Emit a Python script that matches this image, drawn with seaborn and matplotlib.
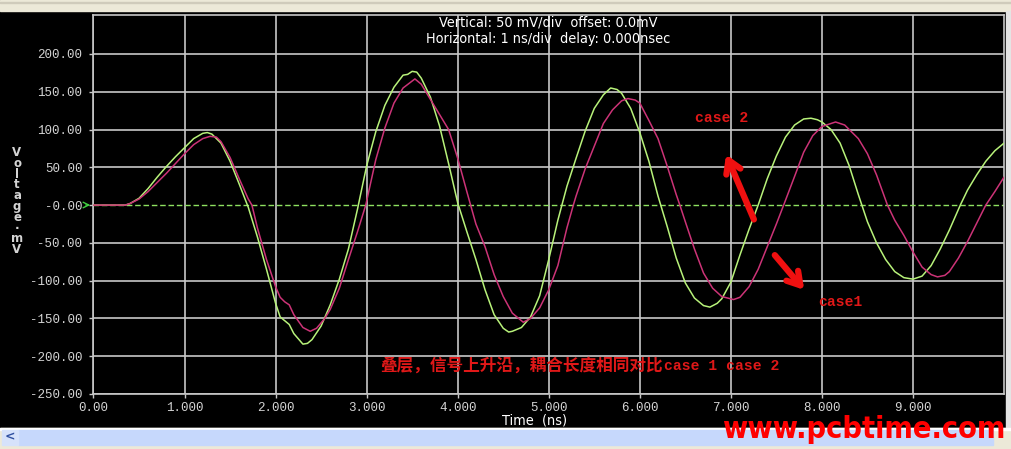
import numpy as np
import pandas as pd
import matplotlib
matplotlib.use('Agg')
import matplotlib.pyplot as plt
from matplotlib.patches import Rectangle
import seaborn as sns

# valores: tempo (ns) e tensao (mV)
t_case2 = [0.0, 0.3, 0.35, 0.4, 0.5, 0.6, 0.7, 0.8, 0.9, 1.0, 1.1, 1.2, 1.25, 1.3, 1.4, 1.5, 1.6,
           1.7, 1.8, 1.9, 2.0, 2.05, 2.1, 2.15, 2.2, 2.3, 2.35, 2.4, 2.5, 2.6, 2.7, 2.8, 2.9,
           3.0, 3.1, 3.2, 3.3, 3.4, 3.45, 3.5, 3.55, 3.6, 3.7, 3.8, 3.9, 4.0, 4.1, 4.2, 4.3,
           4.4, 4.5, 4.56, 4.6, 4.7, 4.8, 4.9, 5.0, 5.1, 5.2, 5.3, 5.4, 5.5, 5.6, 5.68, 5.75,
           5.8, 5.9, 6.0, 6.1, 6.2, 6.3, 6.4, 6.5, 6.6, 6.7, 6.77, 6.85, 6.9, 7.0, 7.1, 7.2,
           7.3, 7.4, 7.5, 7.6, 7.7, 7.8, 7.88, 7.95, 8.0, 8.1, 8.2, 8.3, 8.4, 8.5, 8.6, 8.7,
           8.8, 8.9, 9.0, 9.1, 9.2, 9.3, 9.4, 9.52, 9.6, 9.7, 9.8, 9.9, 10.0]
v_case2 = [0, 0, 0, 2, 9, 22, 37, 51, 64, 76, 88, 95, 96, 94, 82, 58, 28,
           -3, -42, -85, -130, -148, -153, -158, -170, -184, -183, -178, -160, -132, -98, -58, -5,
           52, 97, 132, 156, 172, 173, 177, 176, 168, 143, 105, 55, 3, -35, -72, -112,
           -145, -163, -168, -167, -162, -148, -120, -72, -20, 25, 62, 98, 128, 146, 155, 153,
           148, 128, 96, 58, 12, -28, -70, -103, -123, -133, -135, -130, -124, -102, -66, -32,
           0, 35, 65, 90, 106, 114, 115, 113, 110, 100, 82, 52, 14, -22, -50, -72,
           -88, -96, -98, -94, -80, -58, -33, 0, 20, 40, 58, 72, 82]

t_case1 = [0.0, 0.35, 0.4, 0.5, 0.6, 0.7, 0.8, 0.9, 1.0, 1.1, 1.2, 1.28, 1.35, 1.4, 1.5, 1.6,
           1.7, 1.74, 1.8, 1.9, 2.0, 2.05, 2.1, 2.15, 2.2, 2.3, 2.38, 2.45, 2.54, 2.6, 2.7,
           2.8, 2.9, 2.99, 3.1, 3.2, 3.3, 3.4, 3.53, 3.6, 3.7, 3.8, 3.9, 4.0, 4.1, 4.2,
           4.3, 4.4, 4.5, 4.6, 4.72, 4.8, 4.9, 5.0, 5.1, 5.2, 5.27, 5.3, 5.4, 5.5, 5.6, 5.7,
           5.8, 5.87, 5.95, 6.0, 6.1, 6.2, 6.3, 6.4, 6.44, 6.5, 6.6, 6.7, 6.8, 6.9, 7.03, 7.1,
           7.2, 7.3, 7.4, 7.5, 7.58, 7.7, 7.8, 7.9, 8.0, 8.15, 8.25, 8.3, 8.4, 8.5, 8.6, 8.72,
           8.8, 8.9, 9.0, 9.1, 9.2, 9.27, 9.35, 9.4, 9.5, 9.6, 9.7, 9.8, 9.9, 10.0]
v_case1 = [0, 0, 2, 8, 18, 30, 42, 55, 68, 80, 88, 91, 90, 84, 63, 35,
           8, 0, -30, -72, -108, -122, -128, -132, -145, -162, -167, -163, -150, -138, -110,
           -72, -35, 0, 60, 102, 135, 155, 167, 160, 140, 120, 100, 62, 18, -25,
           -55, -92, -121, -143, -155, -150, -136, -112, -80, -30, 0, 12, 48, 78, 108, 126,
           138, 141, 139, 135, 112, 88, 52, 14, 0, -22, -58, -90, -110, -121, -125, -122,
           -108, -85, -55, -25, 0, 38, 70, 92, 104, 110, 106, 100, 88, 68, 40, 0,
           -20, -40, -62, -82, -92, -95, -93, -88, -70, -48, -24, 0, 18, 37]

x_ticks = [0, 1, 2, 3, 4, 5, 6, 7, 8, 9]
x_tick_labels = ['0.00', '1.000', '2.000', '3.000', '4.000', '5.000', '6.000', '7.000', '8.000', '9.000']
y_ticks = [-250, -200, -150, -100, -50, 0, 50, 100, 150, 200]
y_tick_labels = ['-250.00', '-200.00', '-150.00', '-100.00', '-50.00', '-0.00',
                 '50.00', '100.00', '150.00', '200.00']

sns.set_style('ticks')

W, H = 1012, 449
fig = plt.figure(figsize=(W / 100, H / 100), dpi=100, facecolor='black')


def fx(x):
    return x / W


def fy(y):
    return 1 - y / H


# "janela" ao redor do grafico
fig.add_artist(Rectangle((0, fy(11)), 1, 11 / H, transform=fig.transFigure, color='#ece9d8', zorder=0))
fig.add_artist(Rectangle((0, fy(3)), 1, 1 / H, transform=fig.transFigure, color='#cfcbbb', zorder=0))
fig.add_artist(Rectangle((fx(1006), fy(428)), 6 / W, 417 / H, transform=fig.transFigure, color='#e4e4e4', zorder=0))
fig.add_artist(Rectangle((0, 0), 1, 21 / H, transform=fig.transFigure, color='#ece9d8', zorder=0))
fig.add_artist(Rectangle((0, fy(430)), 1, 2 / H, transform=fig.transFigure, color='#ffffff', zorder=0))
fig.add_artist(Rectangle((fx(18), fy(445)), 975 / W, 15 / H, transform=fig.transFigure, color='#c6d8fc', zorder=0))
fig.add_artist(Rectangle((fx(2), fy(445)), 16 / W, 15 / H, transform=fig.transFigure, color='#d6e2fb', zorder=0))
fig.text(fx(10), fy(437), '<', color='#3050a0', fontsize=9, fontweight='bold', ha='center', va='center')

ax = fig.add_axes([fx(93.5), fy(394), (1004 - 93.5) / W, (394 - 15) / H])
ax.set_facecolor('black')

df2 = pd.DataFrame({'t': t_case2, 'v': v_case2})
df1 = pd.DataFrame({'t': t_case1, 'v': v_case1})

ax.axhline(0, color='#8ee060', lw=1, ls=(0, (4, 2)), zorder=2)
sns.lineplot(data=df2, x='t', y='v', ax=ax, color='#b8f27a', lw=1.1, zorder=3, legend=False)
sns.lineplot(data=df1, x='t', y='v', ax=ax, color='#cc3377', lw=1.1, zorder=3, legend=False)

ax.set_xlim(0, 10)
ax.set_ylim(-250, 251.6)
ax.set_xticks(x_ticks, labels=x_tick_labels, fontfamily='Liberation Mono', fontsize=9)
ax.set_yticks(y_ticks, labels=y_tick_labels, fontfamily='Liberation Mono', fontsize=9)
ax.tick_params(axis='both', colors='#c8c8c8', labelcolor='#d4d4d4', length=3, width=1)
ax.tick_params(axis='x', pad=3)
ax.tick_params(axis='y', pad=5)
ax.set_xlabel('')
ax.set_ylabel('')

ax.grid(True, color='#c8c8c8', lw=1.2, zorder=1)
ax.set_axisbelow(True)
ax.yaxis.get_gridlines()[y_ticks.index(0)].set_visible(False)
for s in ax.spines.values():
    s.set_color('#c8c8c8')
    s.set_linewidth(1.2)

# textos do cabecalho (DejaVu Sans condensada)
fig.text(fx(548), fy(22), 'Vertical: 50 mV/div  offset: 0.0mV', color='white', fontsize=10.4,
         fontstretch='condensed', ha='center', va='center')
fig.text(fx(548), fy(39), 'Horizontal: 1 ns/div  delay: 0.000nsec', color='white', fontsize=10.4,
         fontstretch='condensed', ha='center', va='center')
fig.text(fx(535), fy(421), 'Time  (ns)', color='white', fontsize=10.4,
         fontstretch='condensed', ha='center', va='center')
fig.text(fx(17), fy(201), 'V\no\nl\nt\na\ng\ne\n·\nm\nV', color='#d4d4d4', fontsize=8.5,
         fontweight='bold', ha='center', va='center', linespacing=0.78)

# seta verde do nivel zero
ax.annotate('', xy=(93, H - 205), xytext=(83, H - 205), xycoords='figure pixels',
            textcoords='figure pixels', arrowprops=dict(arrowstyle='->', color='#40d040', lw=1))

# anotacoes em vermelho
red = '#e01818'
fig.text(fx(380), fy(366), '叠层，信号上升沿，耦合长度相同对比', color=red, fontsize=12,
         fontweight='bold', family=['Noto Sans CJK SC', 'DejaVu Sans'], ha='left', va='center')
fig.text(fx(664), fy(366), 'case 1 case 2', color=red, fontsize=10.6, fontweight='bold',
         family='Liberation Mono', ha='left', va='center')
fig.text(fx(695), fy(118), 'case 2', color=red, fontsize=10.6, fontweight='bold',
         family='Liberation Mono', ha='left', va='center')
fig.text(fx(818), fy(302), 'case1', color=red, fontsize=10.6, fontweight='bold',
         family='Liberation Mono', ha='left', va='center')

arrow = dict(arrowstyle='->,head_length=0.9,head_width=0.55', color='#f01010', lw=4.5)
ax.annotate('', xy=(725, H - 152), xytext=(755, H - 222), xycoords='figure pixels',
            textcoords='figure pixels', arrowprops=arrow)
ax.annotate('', xy=(806, H - 292), xytext=(773, H - 253), xycoords='figure pixels',
            textcoords='figure pixels', arrowprops=arrow)

fig.text(fx(864), fy(429), 'www.pcbtime.com', color='#ff0000', fontsize=22, fontweight='bold',
         fontstretch='condensed', ha='center', va='center')

fig.savefig('out.png', dpi=100, facecolor='black')
